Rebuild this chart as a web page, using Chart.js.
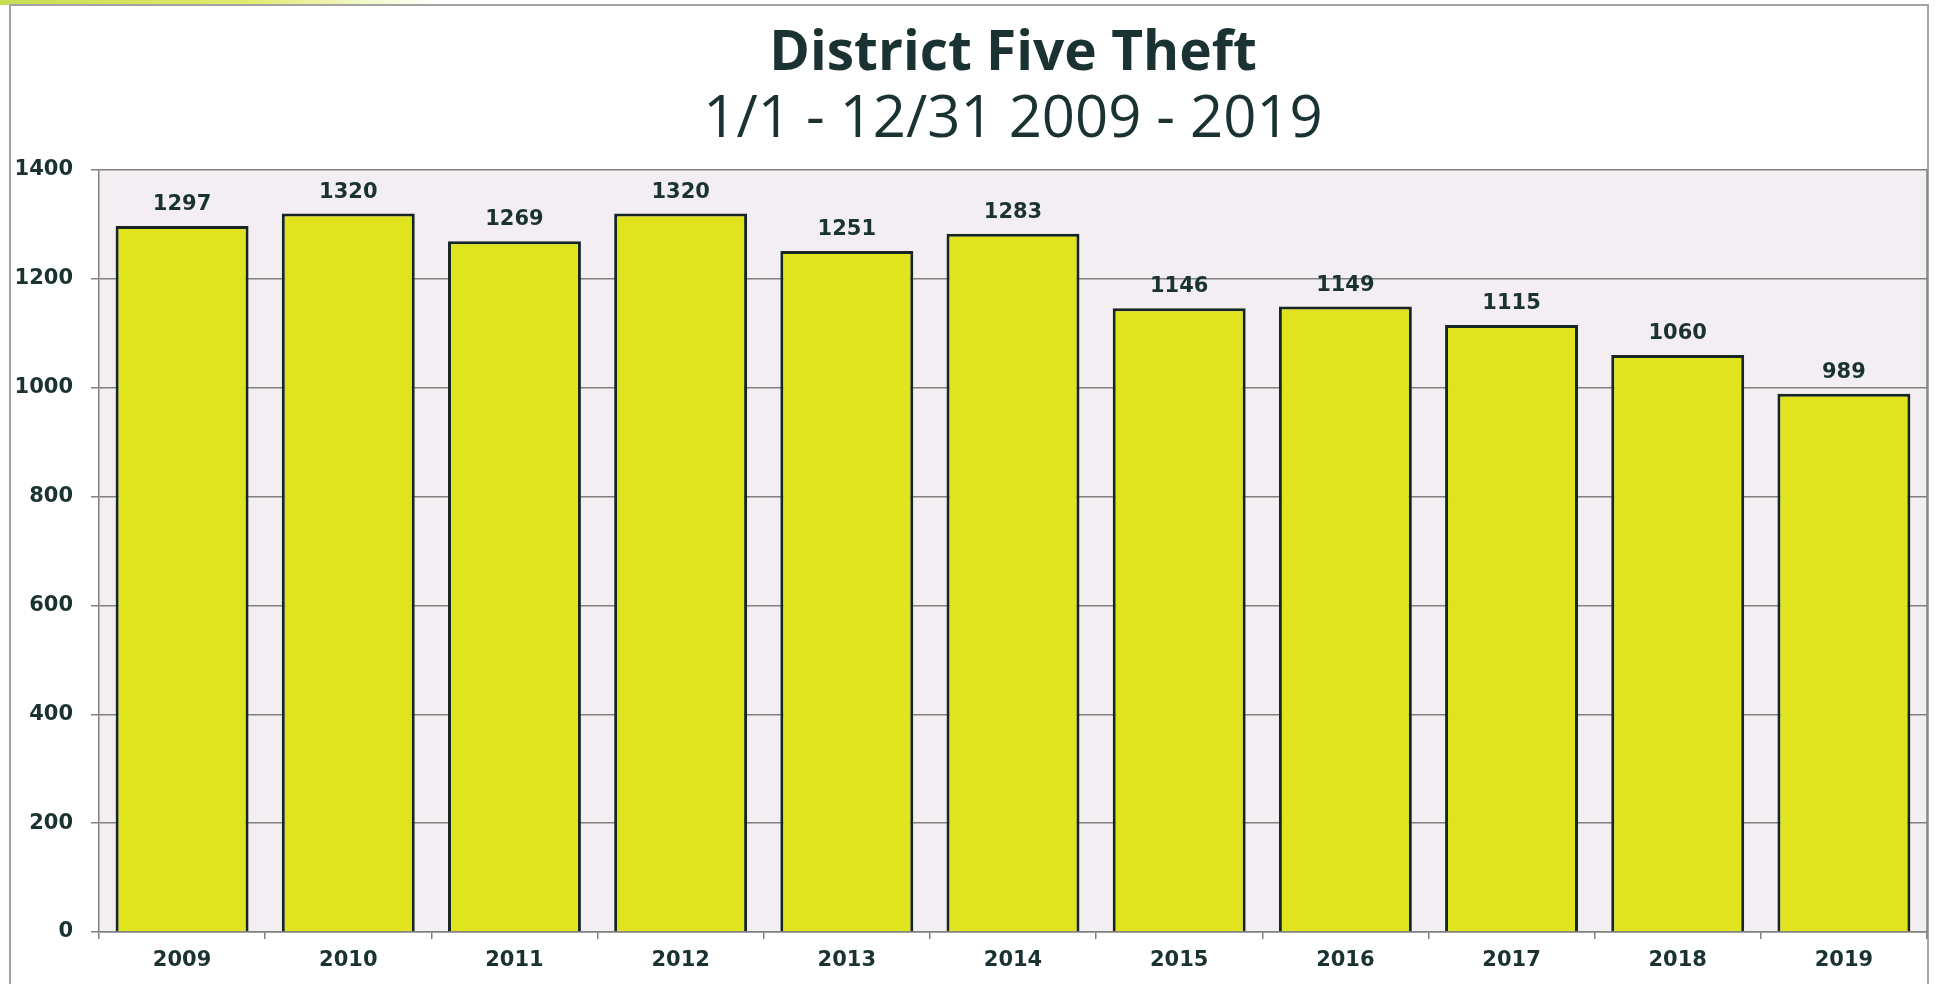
<!DOCTYPE html>
<html>
<head>
<meta charset="utf-8">
<title>District Five Theft</title>
<script src="https://cdn.jsdelivr.net/npm/chart.js@4/dist/chart.umd.min.js"></script>
<style>
  html, body { margin: 0; padding: 0; background: #fff; overflow: hidden; }
  #wrap { position: relative; width: 1936px; height: 984px; }
  #frame { position: absolute; left: 9px; top: 4px; width: 1920px; height: 1000px;
           border: 2px solid #a3a3a3; box-sizing: border-box; }
  #swoosh { position: absolute; left: 0; top: 0; width: 440px; height: 5px;
            background: linear-gradient(to right, #c8dc52, #dfeb6c 55%, rgba(255,255,255,0)); }
  #chart { position: absolute; left: 0; top: 0; }
</style>
</head>
<body>
<div id="wrap">
  <div id="swoosh"></div>
  <div id="frame"></div>
  <canvas id="chart" width="1936" height="984"></canvas>
</div>
<script>
// data
const years = ['2009', '2010', '2011', '2012', '2013', '2014', '2015', '2016', '2017', '2018', '2019'];
const thefts = [1297, 1320, 1269, 1320, 1251, 1283, 1146, 1149, 1115, 1060, 989];
const yTicks = [0, 200, 400, 600, 800, 1000, 1200, 1400];

const ink = '#1b3232';
const gridGray = '#808080';
const tickFont = { family: 'DejaVu Sans', size: 21, weight: 'bold' };

// pale plot background + frame round the plot area
const plotBg = {
  id: 'plotBg',
  beforeDraw(chart) {
    const { ctx, chartArea: a } = chart;
    ctx.save();
    ctx.fillStyle = '#f3eef1';
    ctx.fillRect(a.left, a.top, a.right - a.left, a.bottom - a.top);
    ctx.strokeStyle = gridGray;
    ctx.lineWidth = 1.5;
    ctx.beginPath();
    ctx.moveTo(a.right, a.top);
    ctx.lineTo(a.right, a.bottom);
    ctx.stroke();
    ctx.restore();
  }
};

// value on top of each bar
const barValues = {
  id: 'barValues',
  afterDatasetsDraw(chart) {
    const { ctx } = chart;
    const meta = chart.getDatasetMeta(0);
    ctx.save();
    ctx.font = 'bold 21px "DejaVu Sans"';
    ctx.fillStyle = ink;
    ctx.textAlign = 'center';
    ctx.textBaseline = 'alphabetic';
    meta.data.forEach((bar, i) => {
      ctx.fillText(String(thefts[i]), bar.x, bar.y - 16);
    });
    ctx.restore();
  }
};

new Chart(document.getElementById('chart'), {
  type: 'bar',
  data: {
    labels: years,
    datasets: [{
      data: thefts,
      backgroundColor: '#dfe41f',
      borderColor: '#172525',
      borderWidth: 3,
      barPercentage: 0.8,
      categoryPercentage: 1.0
    }]
  },
  options: {
    responsive: false,
    animation: false,
    devicePixelRatio: 1,
    layout: { padding: { left: 0, right: 9, top: 0, bottom: 0 } },
    plugins: {
      legend: { display: false },
      tooltip: { enabled: false },
      title: {
        display: true,
        fullSize: false,
        text: 'District Five Theft',
        color: ink,
        font: { family: 'Open Sans', size: 55, weight: 'bold', lineHeight: 1 },
        padding: { top: 27, bottom: 9 }
      },
      subtitle: {
        display: true,
        fullSize: false,
        text: '1/1 - 12/31 2009 - 2019',
        color: ink,
        font: { family: 'Open Sans', size: 58, weight: 'normal', lineHeight: 1 },
        padding: { top: 0, bottom: 21 }
      }
    },
    scales: {
      x: {
        grid: { drawOnChartArea: false, drawTicks: true, tickLength: 7, color: gridGray, lineWidth: 1.5 },
        border: { display: true, color: gridGray, width: 1.5 },
        ticks: { color: ink, font: tickFont, padding: 9, maxRotation: 0 },
        afterFit(scale) { scale.height = 52; }
      },
      y: {
        min: 0,
        max: 1400,
        afterBuildTicks(scale) { scale.ticks = yTicks.map(v => ({ value: v })); },
        grid: { color: gridGray, lineWidth: 1.5, drawTicks: true, tickLength: 8 },
        border: { display: true, color: gridGray, width: 1.5 },
        ticks: { color: ink, font: tickFont, padding: 18, callback: v => String(v) },
        afterFit(scale) { scale.width = 99; }
      }
    }
  },
  plugins: [plotBg, barValues]
});
</script>
</body>
</html>
